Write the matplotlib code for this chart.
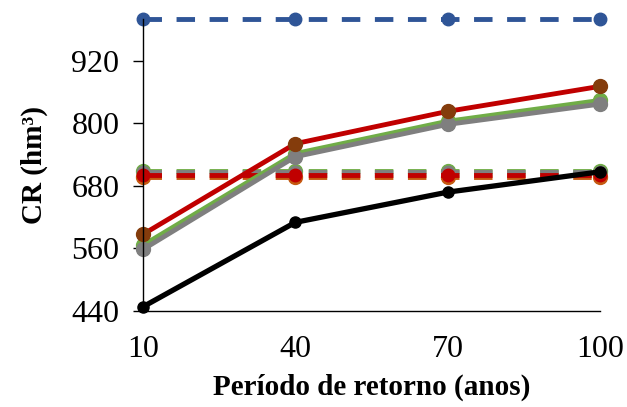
import matplotlib
matplotlib.use("Agg")
import matplotlib.pyplot as plt

# return periods (years)
periodos = [10, 40, 70, 100]

# solid curves
cr_preto = [448, 610, 668, 707]
cr_vermelho = [587, 761, 823, 871]
cr_verde = [566, 742, 804, 844]
cr_cinza = [558, 736, 798, 837]

# dashed reference levels
ref_azul = [1000, 1000, 1000, 1000]
ref_verde = [709, 709, 709, 709]
ref_cinza = [706, 706, 706, 706]
ref_laranja = [698, 698, 698, 698]
ref_vermelho = [700, 700, 700, 700]

plt.rcParams['font.family'] = ['Liberation Serif', 'DejaVu Serif']

fig = plt.figure(figsize=(6.27, 4.07), dpi=100)
ax = fig.add_axes([0.228, 0.236, 0.729, 0.717])

dash = (3.8, 3.0)
lw = 3.5

# dashed horizontal levels
ax.plot(periodos, ref_azul, color='#2F5597', lw=lw, dashes=dash,
        marker='o', ms=9, clip_on=False)
ax.plot(periodos, ref_verde, color='#70AD47', lw=lw, dashes=dash,
        marker='o', ms=10, clip_on=False)
ax.plot(periodos, ref_cinza, color='#7F7F7F', lw=lw, dashes=dash,
        marker='o', ms=9, clip_on=False)
ax.plot(periodos, ref_laranja, color='#C55A11', lw=lw, dashes=dash,
        marker='o', ms=10, clip_on=False)
ax.plot(periodos, ref_vermelho, color='#C00000', lw=lw, dashes=dash,
        marker='o', ms=9, clip_on=False)

# solid curves
ax.plot(periodos, cr_preto, color='black', lw=3.8,
        marker='o', ms=8, clip_on=False)
ax.plot(periodos, cr_verde, color='#70AD47', lw=3.5,
        marker='o', ms=10, clip_on=False)
ax.plot(periodos, cr_cinza, color='#7F7F7F', lw=3.5,
        marker='o', ms=10, clip_on=False)
ax.plot(periodos, cr_vermelho, color='#C00000', lw=3.5, marker='o', ms=10,
        mfc='#843C0C', mec='#843C0C', clip_on=False)

ax.set_xlim(10, 100)
ax.set_ylim(440, 1000)
ax.set_xticks(periodos)
ax.set_yticks([440, 560, 680, 800, 920])

for s in ['top', 'right']:
    ax.spines[s].set_visible(False)
ax.spines['left'].set_linewidth(1.0)
ax.spines['bottom'].set_linewidth(1.0)

ax.tick_params(axis='y', direction='out', length=7, width=1, labelsize=23, pad=10)
ax.tick_params(axis='x', length=0, labelsize=23, pad=17)

ax.set_xlabel('Período de retorno (anos)', fontsize=21, fontweight='bold', labelpad=7)
ax.set_ylabel('CR (hm³)', fontsize=21, fontweight='bold', labelpad=17)

fig.savefig('out.png', dpi=100)
